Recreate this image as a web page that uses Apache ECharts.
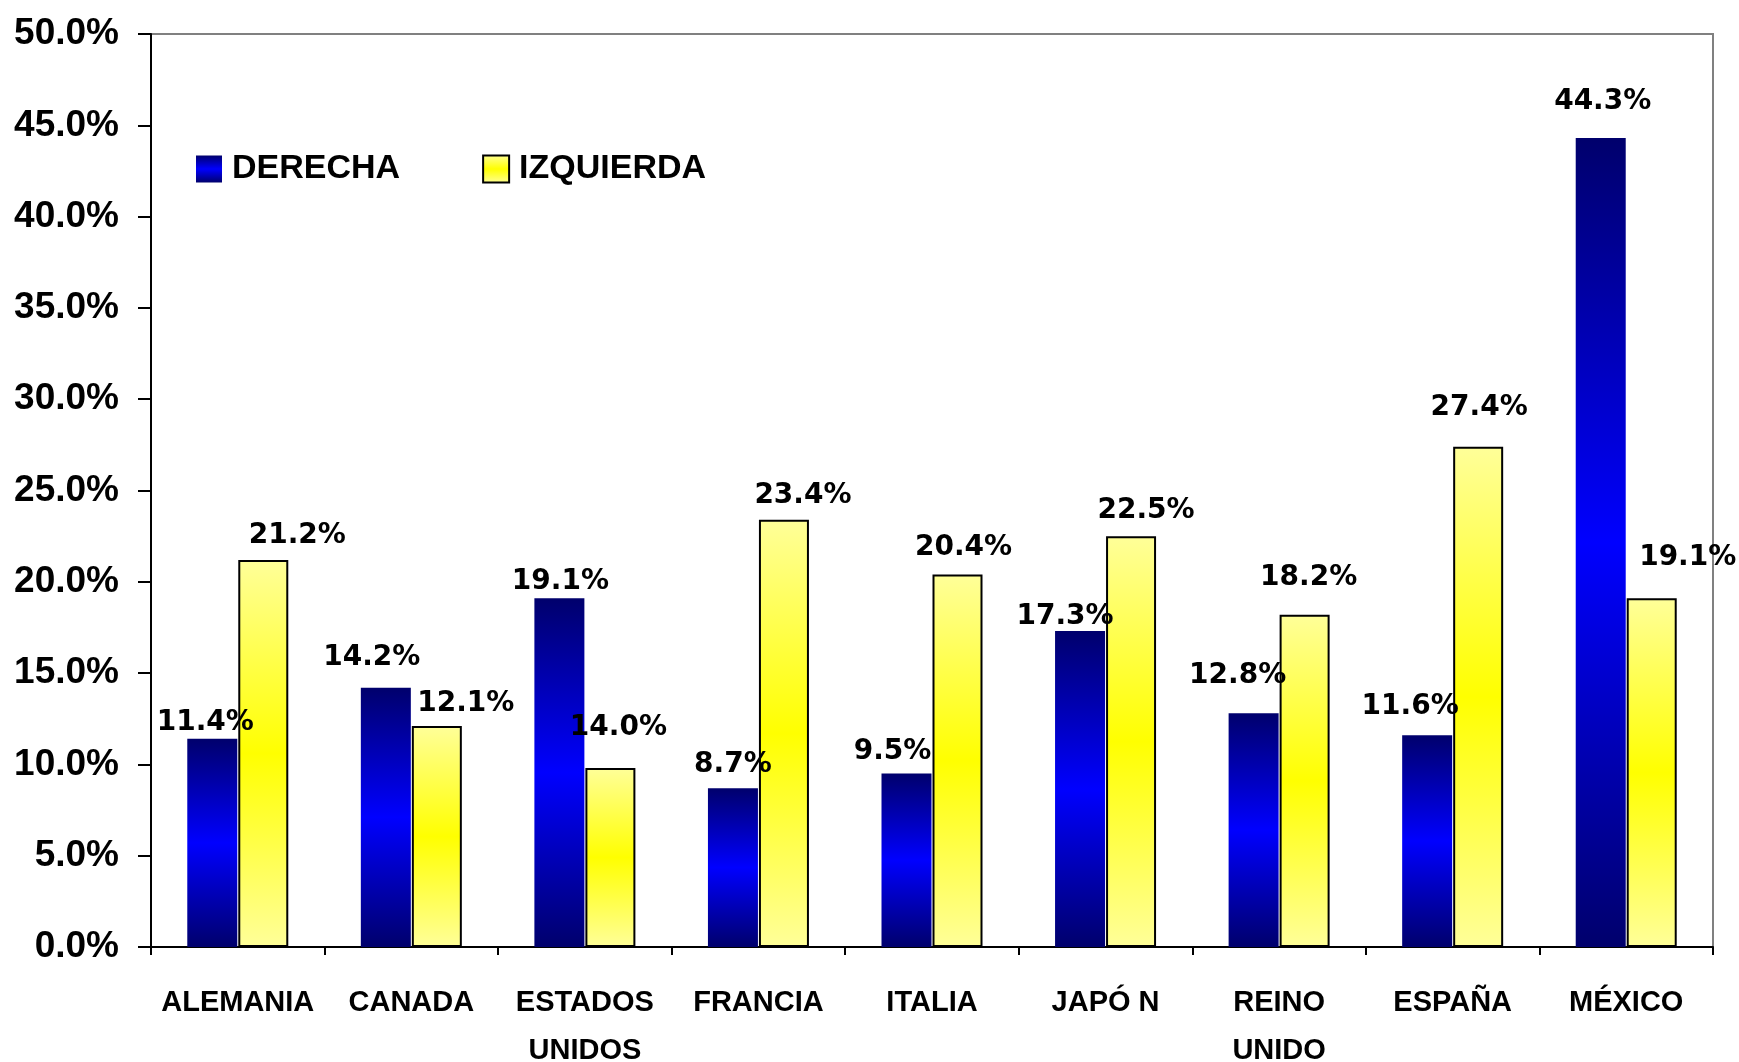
<!DOCTYPE html>
<html>
<head>
<meta charset="utf-8">
<script src="https://cdn.jsdelivr.net/npm/echarts@6/dist/echarts.min.js"></script>
<style>
html,body{margin:0;padding:0;background:#fff;overflow:hidden;}
#chart{width:1739px;height:1062px;}
</style>
</head>
<body>
<div id="chart"></div>
<script>
// ---- data ----
const categories = ['ALEMANIA', 'CANADA', 'ESTADOS\nUNIDOS', 'FRANCIA', 'ITALIA', 'JAPÓ N', 'REINO\nUNIDO', 'ESPAÑA', 'MÉXICO'];
const seriesNames = ['DERECHA', 'IZQUIERDA'];
const derecha = [11.4, 14.2, 19.1, 8.7, 9.5, 17.3, 12.8, 11.6, 44.3];
const izquierda = [21.2, 12.1, 9.8, 23.4, 20.4, 22.5, 18.2, 27.4, 19.1];
const labelsDerecha = ['11.4%', '14.2%', '19.1%', '8.7%', '9.5%', '17.3%', '12.8%', '11.6%', '44.3%'];
const labelsIzquierda = ['21.2%', '12.1%', '14.0%', '23.4%', '20.4%', '22.5%', '18.2%', '27.4%', '19.1%'];
const yTickValues = [0, 5, 10, 15, 20, 25, 30, 35, 40, 45, 50];

// label nudges (styling only, relative to bar top centre)
const nudgeDerecha = [[-7,-16],[-14,-30],[1,-17],[0,-23],[-14,-22],[-15,-14],[-16,-38],[-17,-28],[2,-36]];
const nudgeIzquierda = [[34,-24],[29,-22],[8,-40],[19,-24],[6,-27],[15,-25],[4,-37],[1,-39],[36,-41]];

const blueGrad = new echarts.graphic.LinearGradient(0, 0, 0, 1, [
  {offset: 0, color: '#00006c'}, {offset: 0.5, color: '#0000ff'}, {offset: 1, color: '#00006c'}
]);
const yellowGrad = new echarts.graphic.LinearGradient(0, 0, 0, 1, [
  {offset: 0, color: '#ffff99'}, {offset: 0.5, color: '#ffff00'}, {offset: 1, color: '#ffff99'}
]);

function buildData(values, nudges) {
  return values.map((v, i) => ({value: v, label: {offset: nudges[i]}}));
}

const labelBase = {
  show: true,
  position: 'top',
  distance: 0,
  align: 'center',
  verticalAlign: 'middle',
  color: '#000',
  fontFamily: 'DejaVu Sans',
  fontWeight: 'bold',
  fontSize: 28
};

const chart = echarts.init(document.getElementById('chart'));
chart.setOption({
  animation: false,
  backgroundColor: '#fff',
  grid: {left: 151, right: 26, top: 34, bottom: 115, outerBoundsMode: 'none', containLabel: false,
    show: true, borderColor: '#808080', borderWidth: 2, backgroundColor: 'transparent'},
  legend: {
    data: seriesNames,
    left: 191, top: 147,
    itemWidth: 26, itemHeight: 27, itemGap: 82,
    icon: 'rect',
    textStyle: {fontFamily: 'Liberation Sans, Arial, sans-serif', fontWeight: 'bold', fontSize: 34, color: '#000', padding: [0, 0, 0, 5]}
  },
  xAxis: {
    type: 'category',
    data: categories,
    axisLine: {lineStyle: {color: '#000', width: 2}},
    axisTick: {show: true, length: 8, lineStyle: {color: '#000', width: 2}},
    axisLabel: {interval: 0, margin: 32, lineHeight: 48, color: '#000', fontFamily: 'Liberation Sans, Arial, sans-serif', fontWeight: 'bold', fontSize: 29},
    splitLine: {show: false}
  },
  yAxis: {
    type: 'value',
    min: yTickValues[0], max: yTickValues[yTickValues.length - 1], interval: 5,
    axisLine: {show: true, lineStyle: {color: '#000', width: 2}},
    axisTick: {show: true, length: 13, lineStyle: {color: '#000', width: 2}},
    axisLabel: {margin: 32, color: '#000', fontFamily: 'Liberation Sans, Arial, sans-serif', fontWeight: 'bold', fontSize: 37,
      formatter: v => v.toFixed(1) + '%'},
    splitLine: {show: false}
  },
  series: [
    {
      name: seriesNames[0], type: 'bar', barWidth: 50, barGap: '2%',
      data: buildData(derecha, nudgeDerecha),
      itemStyle: {color: blueGrad},
      label: Object.assign({}, labelBase, {formatter: p => labelsDerecha[p.dataIndex]})
    },
    {
      name: seriesNames[1], type: 'bar', barWidth: 50, barGap: '2%',
      data: buildData(izquierda, nudgeIzquierda),
      itemStyle: {color: yellowGrad, borderColor: '#000', borderWidth: 2},
      label: Object.assign({}, labelBase, {formatter: p => labelsIzquierda[p.dataIndex]})
    }
  ]
});
</script>
</body>
</html>
